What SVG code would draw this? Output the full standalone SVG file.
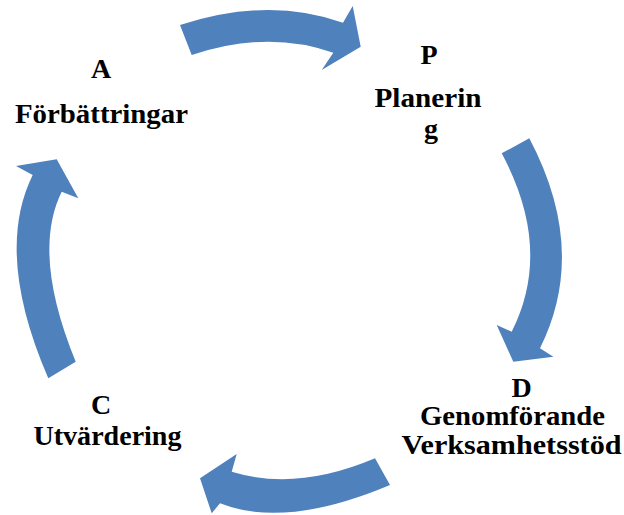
<svg xmlns="http://www.w3.org/2000/svg" width="624" height="515" viewBox="0 0 624 515">
<style>
.lbl{font-family:"Times New Roman","Liberation Serif",Tinos,"DejaVu Serif",serif;font-weight:700;font-size:28px;fill:#000;text-anchor:middle}
.arr{fill:#4F81BD;stroke:none}
</style>
<rect width="624" height="515" fill="#fff"/>
<g id="connectors">
<path id="arrow-A-P" class="arr" d="M180,25 Q268.5,-3.9 343,22.7 L352.7,6 L360.7,46.7 L321.7,70 L333.3,52.7 Q267.5,29.5 191.7,55 Z"/>
<path id="arrow-P-D" class="arr" d="M529.3,138.3 Q588.7,250.7 540,348.3 L553.3,356.7 L513.3,361.7 L496.7,325 L511.7,331.7 Q553.3,249.5 501.7,153.3 Z"/>
<path id="arrow-D-C" class="arr" d="M390,485 Q285,529.2 220,503.3 L211.7,513.3 L200,478.3 L236.7,454 L231.7,471.7 Q296.7,491.6 375,458.3 Z"/>
<path id="arrow-C-A" class="arr" d="M48.3,378.3 Q-5.9,253.3 32.7,175 L16,166 L56.7,159.3 L78.3,198.3 L61.7,191.7 Q31.3,253.3 75.7,361.7 Z"/>
</g>
<g id="node-A">
<text class="lbl" x="101" y="78">A</text>
<text class="lbl" x="101.5" y="122.5" textLength="173" lengthAdjust="spacingAndGlyphs">Förbättringar</text>
</g>
<g id="node-P">
<text class="lbl" x="429" y="63.5">P</text>
<text class="lbl" x="428" y="106.5" textLength="107" lengthAdjust="spacingAndGlyphs">Planerin</text>
<text class="lbl" x="431" y="137.5">g</text>
</g>
<g id="node-D">
<text class="lbl" x="521.5" y="396.5">D</text>
<text class="lbl" x="512.5" y="425" textLength="185" lengthAdjust="spacingAndGlyphs">Genomförande</text>
<text class="lbl" x="511.5" y="453.5" textLength="220" lengthAdjust="spacingAndGlyphs">Verksamhetsstöd</text>
</g>
<g id="node-C">
<text class="lbl" x="101" y="413.5">C</text>
<text class="lbl" x="107.5" y="445" textLength="148" lengthAdjust="spacingAndGlyphs">Utvärdering</text>
</g>
</svg>
